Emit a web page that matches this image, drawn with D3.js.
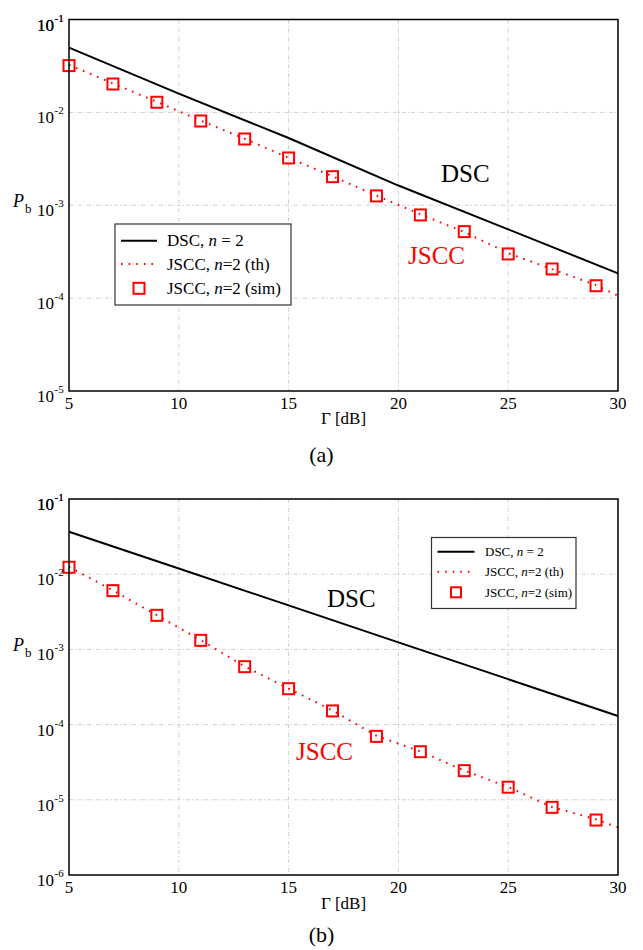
<!DOCTYPE html>
<html>
<head>
<meta charset="utf-8">
<script src="https://cdn.jsdelivr.net/npm/d3@7"></script>
<style>
  body { margin: 0; background: #fff; }
  svg text { font-family: "Liberation Serif", "DejaVu Serif", serif; }
</style>
</head>
<body>
<div id="chart"></div>
<script>
// values
const gammaTicks = [5, 10, 15, 20, 25, 30];
const simGamma = [5, 7, 9, 11, 13, 15, 17, 19, 21, 23, 25, 27, 29];
const thGamma = [5, 7, 9, 11, 13, 15, 17, 19, 21, 23, 25, 27, 29, 30];

// panel (a)
const dscA = [0.0497, 0.0159, 0.0053, 0.00163, 0.00055, 0.000185];
const jsccSimA = [0.0319, 0.0202, 0.01285, 0.00807, 0.00517, 0.00323, 0.00203,
                  0.00126, 0.000787, 0.00052, 0.000299, 0.000206, 0.000136];
const jsccThA = [0.0325, 0.0205, 0.0130, 0.00815, 0.00520, 0.00325, 0.00205,
                 0.00127, 0.00080, 0.000515, 0.000305, 0.000205, 0.000138, 0.000106];

// panel (b)
const dscB = [0.0367, 0.0119, 0.00385, 0.00124, 0.000402, 0.000130];
const jsccSimB = [0.01236, 0.00604, 0.00284, 0.00132, 0.000589, 0.000300, 0.000152,
                  6.98e-5, 4.36e-5, 2.44e-5, 1.47e-5, 7.94e-6, 5.38e-6];
const jsccThB = [0.0125, 0.0061, 0.00285, 0.00133, 0.000595, 0.000302, 0.000154,
                 7.1e-5, 4.4e-5, 2.45e-5, 1.48e-5, 8.0e-6, 5.5e-6, 4.3e-6];

const panels = [
  {
    top: 19.5, bottom: 391, yMin: 1e-5, dsc: dscA, sim: jsccSimA, th: jsccThA,
    caption: "(a)", captionY: 462, xLabelY: 424,
    dscLabel: [441, 182], jsccLabel: [408, 264],
    legend: { x: 115, y: 224, w: 176, h: 81, rows: [240.7, 264, 288.3], font: 17, lineLen: 36, textX: 52 }
  },
  {
    top: 499, bottom: 875, yMin: 1e-6, dsc: dscB, sim: jsccSimB, th: jsccThB,
    caption: "(b)", captionY: 942, xLabelY: 909,
    dscLabel: [327, 607], jsccLabel: [296, 760],
    legend: { x: 431.5, y: 537.5, w: 144.5, h: 71, rows: [551.7, 571.7, 592.3], font: 13, lineLen: 37, textX: 53.5 }
  }
];

const width = 643, height = 950;
const left = 69, right = 618;

const svg = d3.select('#chart').append('svg')
  .attr('width', width)
  .attr('height', height);

panels.forEach(p => drawPanel(p));

function drawPanel(p) {
  const x = d3.scaleLinear().domain([5, 30]).range([left, right]);
  const y = d3.scaleLog().domain([p.yMin, 0.1]).range([p.bottom, p.top]);
  const decades = d3.range(Math.round(Math.log10(p.yMin)), 0).map(e => Math.pow(10, e));
  decades.push(0.1);

  const g = svg.append('g');

  // grid
  const grid = g.append('g')
    .attr('stroke', '#cfcfcf')
    .attr('stroke-width', 1)
    .attr('stroke-dasharray', '4,2,1,2');
  grid.selectAll('line.vx')
    .data(gammaTicks.slice(1, -1))
    .join('line')
    .attr('x1', d => x(d)).attr('x2', d => x(d))
    .attr('y1', p.top).attr('y2', p.bottom);
  grid.selectAll('line.hy')
    .data(decades.slice(1, -1))
    .join('line')
    .attr('x1', left).attr('x2', right)
    .attr('y1', d => y(d)).attr('y2', d => y(d));

  // curves
  const line = d3.line().x(d => x(d[0])).y(d => y(d[1]));

  g.append('path')
    .datum(gammaTicks.map((v, i) => [v, p.dsc[i]]))
    .attr('d', line)
    .attr('fill', 'none')
    .attr('stroke', '#000')
    .attr('stroke-width', 2);

  g.append('path')
    .datum(thGamma.map((v, i) => [v, p.th[i]]))
    .attr('d', line)
    .attr('fill', 'none')
    .attr('stroke', '#ff0000')
    .attr('stroke-width', 2)
    .attr('stroke-dasharray', '1.6,6');

  g.selectAll('rect.sim')
    .data(simGamma.map((v, i) => [v, p.sim[i]]))
    .join('rect')
    .attr('x', d => x(d[0]) - 5.5)
    .attr('y', d => y(d[1]) - 5.5)
    .attr('width', 11)
    .attr('height', 11)
    .attr('fill', 'none')
    .attr('stroke', '#ff0000')
    .attr('stroke-width', 2);

  // frame
  g.append('rect')
    .attr('x', left).attr('y', p.top)
    .attr('width', right - left).attr('height', p.bottom - p.top)
    .attr('fill', 'none')
    .attr('stroke', '#000')
    .attr('stroke-width', 1.5);

  // x tick labels
  g.selectAll('text.xt')
    .data(gammaTicks)
    .join('text')
    .attr('x', d => x(d))
    .attr('y', p.bottom + 17.5)
    .attr('text-anchor', 'middle')
    .attr('font-size', 17)
    .text(d => d);

  // y tick labels 10^e
  const yt = g.selectAll('g.yt')
    .data(decades)
    .join('g')
    .attr('transform', d => `translate(0,${y(d)})`);
  yt.append('text')
    .attr('x', 54)
    .attr('y', 11)
    .attr('text-anchor', 'end')
    .attr('font-size', 17)
    .text('10');
  yt.append('text')
    .attr('x', 54.5)
    .attr('y', 2)
    .attr('font-size', 11)
    .text(d => Math.round(Math.log10(d)));

  // axis titles
  g.append('text')
    .attr('x', (left + right) / 2)
    .attr('y', p.xLabelY)
    .attr('text-anchor', 'middle')
    .attr('font-size', 17)
    .text('Γ [dB]');

  const pb = g.append('text')
    .attr('x', 13)
    .attr('y', y(1e-3) + 2)
    .attr('font-size', 18);
  pb.append('tspan').attr('font-style', 'italic').text('P');
  pb.append('tspan').attr('font-size', 13).attr('dx', 1).attr('dy', 6).text('b');

  g.append('text')
    .attr('x', width / 2)
    .attr('y', p.captionY)
    .attr('text-anchor', 'middle')
    .attr('font-size', 22)
    .text(p.caption);

  // curve labels
  g.append('text')
    .attr('x', p.dscLabel[0]).attr('y', p.dscLabel[1])
    .attr('font-size', 25)
    .attr('fill', '#000')
    .text('DSC');
  g.append('text')
    .attr('x', p.jsccLabel[0]).attr('y', p.jsccLabel[1])
    .attr('font-size', 25)
    .attr('fill', '#ff0000')
    .text('JSCC');

  // legend
  const L = p.legend;
  const lg = g.append('g').attr('transform', `translate(${L.x},${L.y})`);
  lg.append('rect')
    .attr('width', L.w).attr('height', L.h)
    .attr('fill', '#fff')
    .attr('stroke', '#333')
    .attr('stroke-width', 1.2);
  const r = L.rows.map(v => v - L.y);
  const lx0 = 6, lx1 = 6 + L.lineLen;
  lg.append('line')
    .attr('x1', lx0).attr('x2', lx1).attr('y1', r[0]).attr('y2', r[0])
    .attr('stroke', '#000').attr('stroke-width', 2);
  lg.append('line')
    .attr('x1', lx0).attr('x2', lx1).attr('y1', r[1]).attr('y2', r[1])
    .attr('stroke', '#ff0000').attr('stroke-width', 2)
    .attr('stroke-dasharray', '1.6,6');
  const ms = L.font === 17 ? 11 : 10;
  lg.append('rect')
    .attr('x', (lx0 + lx1) / 2 - ms / 2).attr('y', r[2] - ms / 2)
    .attr('width', ms).attr('height', ms)
    .attr('fill', 'none').attr('stroke', '#ff0000').attr('stroke-width', 2);

  const labels = [
    ['DSC, ', 'n', ' = 2'],
    ['JSCC, ', 'n', '=2 (th)'],
    ['JSCC, ', 'n', '=2 (sim)']
  ];
  labels.forEach((parts, i) => {
    const t = lg.append('text')
      .attr('x', L.textX)
      .attr('y', r[i] + L.font * 0.33)
      .attr('font-size', L.font);
    t.append('tspan').text(parts[0]);
    t.append('tspan').attr('font-style', 'italic').text(parts[1]);
    t.append('tspan').text(parts[2]);
  });
}
</script>
</body>
</html>
